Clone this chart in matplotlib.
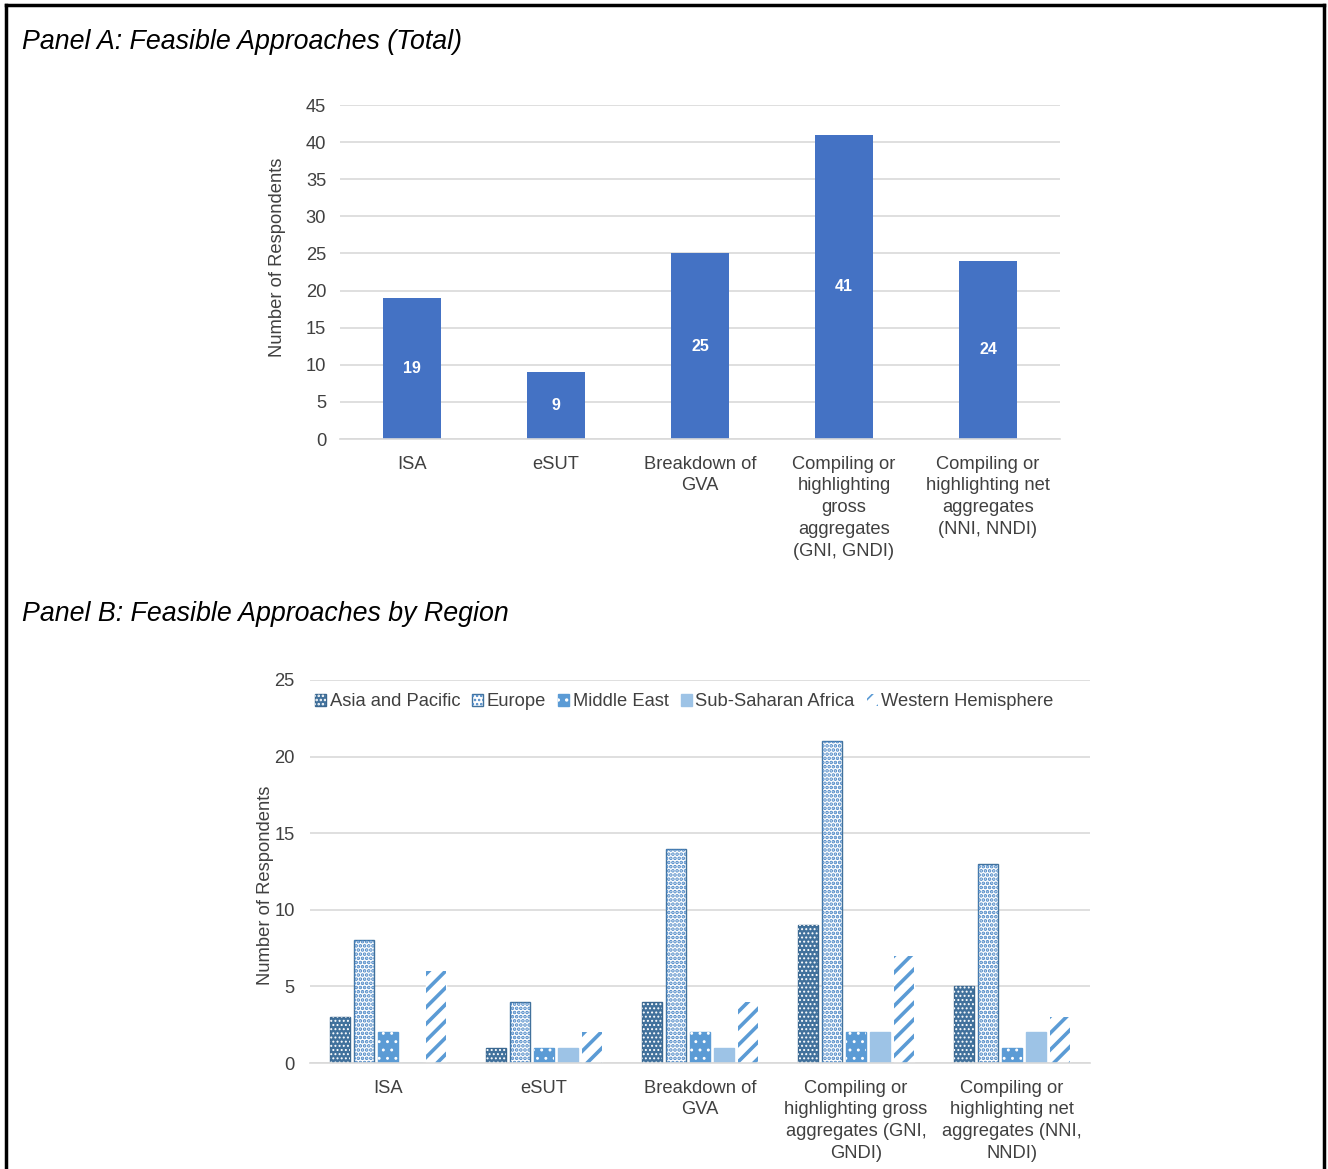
import matplotlib
matplotlib.use("Agg")
import matplotlib.pyplot as plt
import numpy as np
from matplotlib.lines import Line2D

plt.rcParams['font.family'] = ['Liberation Sans', 'DejaVu Sans']
plt.rcParams['hatch.linewidth'] = 1.2

# Panel A: totals
approaches_a = ["ISA", "eSUT", "Breakdown of\nGVA",
                "Compiling or\nhighlighting\ngross\naggregates\n(GNI, GNDI)",
                "Compiling or\nhighlighting net\naggregates\n(NNI, NNDI)"]
totals = [19, 9, 25, 41, 24]

# Panel B: by region
approaches_b = ["ISA", "eSUT", "Breakdown of\nGVA",
                "Compiling or\nhighlighting gross\naggregates (GNI,\nGNDI)",
                "Compiling or\nhighlighting net\naggregates (NNI,\nNNDI)"]
regions = ["Asia and Pacific", "Europe", "Middle East", "Sub-Saharan Africa", "Western Hemisphere"]
asia = [3, 1, 4, 9, 5]
europe = [8, 4, 14, 21, 13]
middle_east = [2, 1, 2, 2, 1]
ssa = [0, 1, 1, 2, 2]
west_hem = [6, 2, 4, 7, 3]

# face colour, edge colour, hatch pattern, hatch colour, hatch width
styles = [
    ("#41719C", "#3A6790", "....", "white", 0.9),
    ("white", "#41719C", "....", "#4A86C5", 1.8),
    ("#5B9BD5", "#5B9BD5", "..", "white", 0.9),
    ("#9DC3E6", "#9DC3E6", None, None, 0),
    ("white", "white", "//", "#5B9BD5", 2.6),
]

grid_col = "#D9D9D9"
txt_col = "#404040"
lbl_size = 13.2

fig = plt.figure(figsize=(13.28, 11.69), dpi=100)

# page frame (open at the bottom)
frame = dict(color="black", lw=2.5, transform=fig.transFigure, clip_on=False)
fig.add_artist(Line2D([6 / 1328, 6 / 1328], [0, 1 - 5 / 1169], **frame))
fig.add_artist(Line2D([6 / 1328, 1 - 4 / 1328], [1 - 5 / 1169, 1 - 5 / 1169], **frame))
fig.add_artist(Line2D([1 - 4 / 1328, 1 - 4 / 1328], [0, 1 - 5 / 1169], **frame))

fig.text(22 / 1328, 1 - 42 / 1169, "Panel A: Feasible Approaches (Total)",
         fontsize=19.3, style="italic", va="center", ha="left", color="black")
fig.text(22 / 1328, 1 - 614 / 1169, "Panel B: Feasible Approaches by Region",
         fontsize=19.3, style="italic", va="center", ha="left", color="black")


def style_axes(ax):
    for s in ["top", "right", "left"]:
        ax.spines[s].set_visible(False)
    ax.spines["bottom"].set_color(grid_col)
    ax.spines["bottom"].set_linewidth(1.2)
    ax.tick_params(length=0, labelsize=lbl_size, labelcolor=txt_col)
    ax.yaxis.grid(True, color=grid_col, lw=1.2)
    ax.set_axisbelow(True)


# ---- Panel A ----
axA = fig.add_axes([340 / 1328, 1 - 439 / 1169, 720 / 1328, 334 / 1169])
style_axes(axA)
x = np.arange(len(totals))
bars = axA.bar(x, totals, width=0.40, color="#4472C4")
for b, v in zip(bars, totals):
    axA.text(b.get_x() + b.get_width() / 2, v / 2, str(v), ha="center", va="center",
             color="white", fontweight="bold", fontsize=11.5)
axA.set_xlim(-0.5, 4.5)
axA.set_ylim(0, 45)
axA.set_yticks(range(0, 46, 5))
axA.set_xticks(x)
axA.set_xticklabels(approaches_a, linespacing=1.37)
axA.tick_params(axis="x", pad=12)
axA.tick_params(axis="y", pad=10)
axA.set_ylabel("Number of Respondents", fontsize=13.2, color=txt_col)
axA.yaxis.set_label_coords(-0.075, 0.545)

# ---- Panel B ----
axB = fig.add_axes([310 / 1328, 1 - 1063 / 1169, 780 / 1328, 383 / 1169])
style_axes(axB)
series = [asia, europe, middle_east, ssa, west_hem]
pitch = 0.154
width = 0.128
handles = []
for i, (vals, (fc, ec, hatch, hc, hlw)) in enumerate(zip(series, styles)):
    pos = x + (i - 2) * pitch
    base = axB.bar(pos, vals, width=width, color=fc, edgecolor=ec, linewidth=1.0)
    h = [base.patches[0]]
    if hatch:
        over = axB.bar(pos, vals, width=width, fill=False, hatch=hatch,
                       edgecolor=hc, linewidth=0)
        for p in over.patches:
            if hasattr(p, "set_hatch_linewidth"):
                p.set_hatch_linewidth(hlw)
        h.append(over.patches[0])
    handles.append(tuple(h))

axB.set_xlim(-0.5, 4.5)
axB.set_ylim(0, 25)
axB.set_yticks(range(0, 26, 5))
axB.set_xticks(x)
axB.set_xticklabels(approaches_b, linespacing=1.37)
axB.tick_params(axis="x", pad=12)
axB.tick_params(axis="y", pad=11)
axB.set_ylabel("Number of Respondents", fontsize=13.2, color=txt_col)
axB.yaxis.set_label_coords(-0.046, 0.465)

leg = axB.legend(handles, regions, loc="center", bbox_to_anchor=(0.48, 0.9426),
                 ncol=5, frameon=False, fontsize=13.2, handlelength=0.6,
                 handleheight=0.6, handletextpad=0.2, columnspacing=0.65,
                 borderpad=0)
for t in leg.get_texts():
    t.set_color(txt_col)

fig.savefig("out.png", dpi=100)
